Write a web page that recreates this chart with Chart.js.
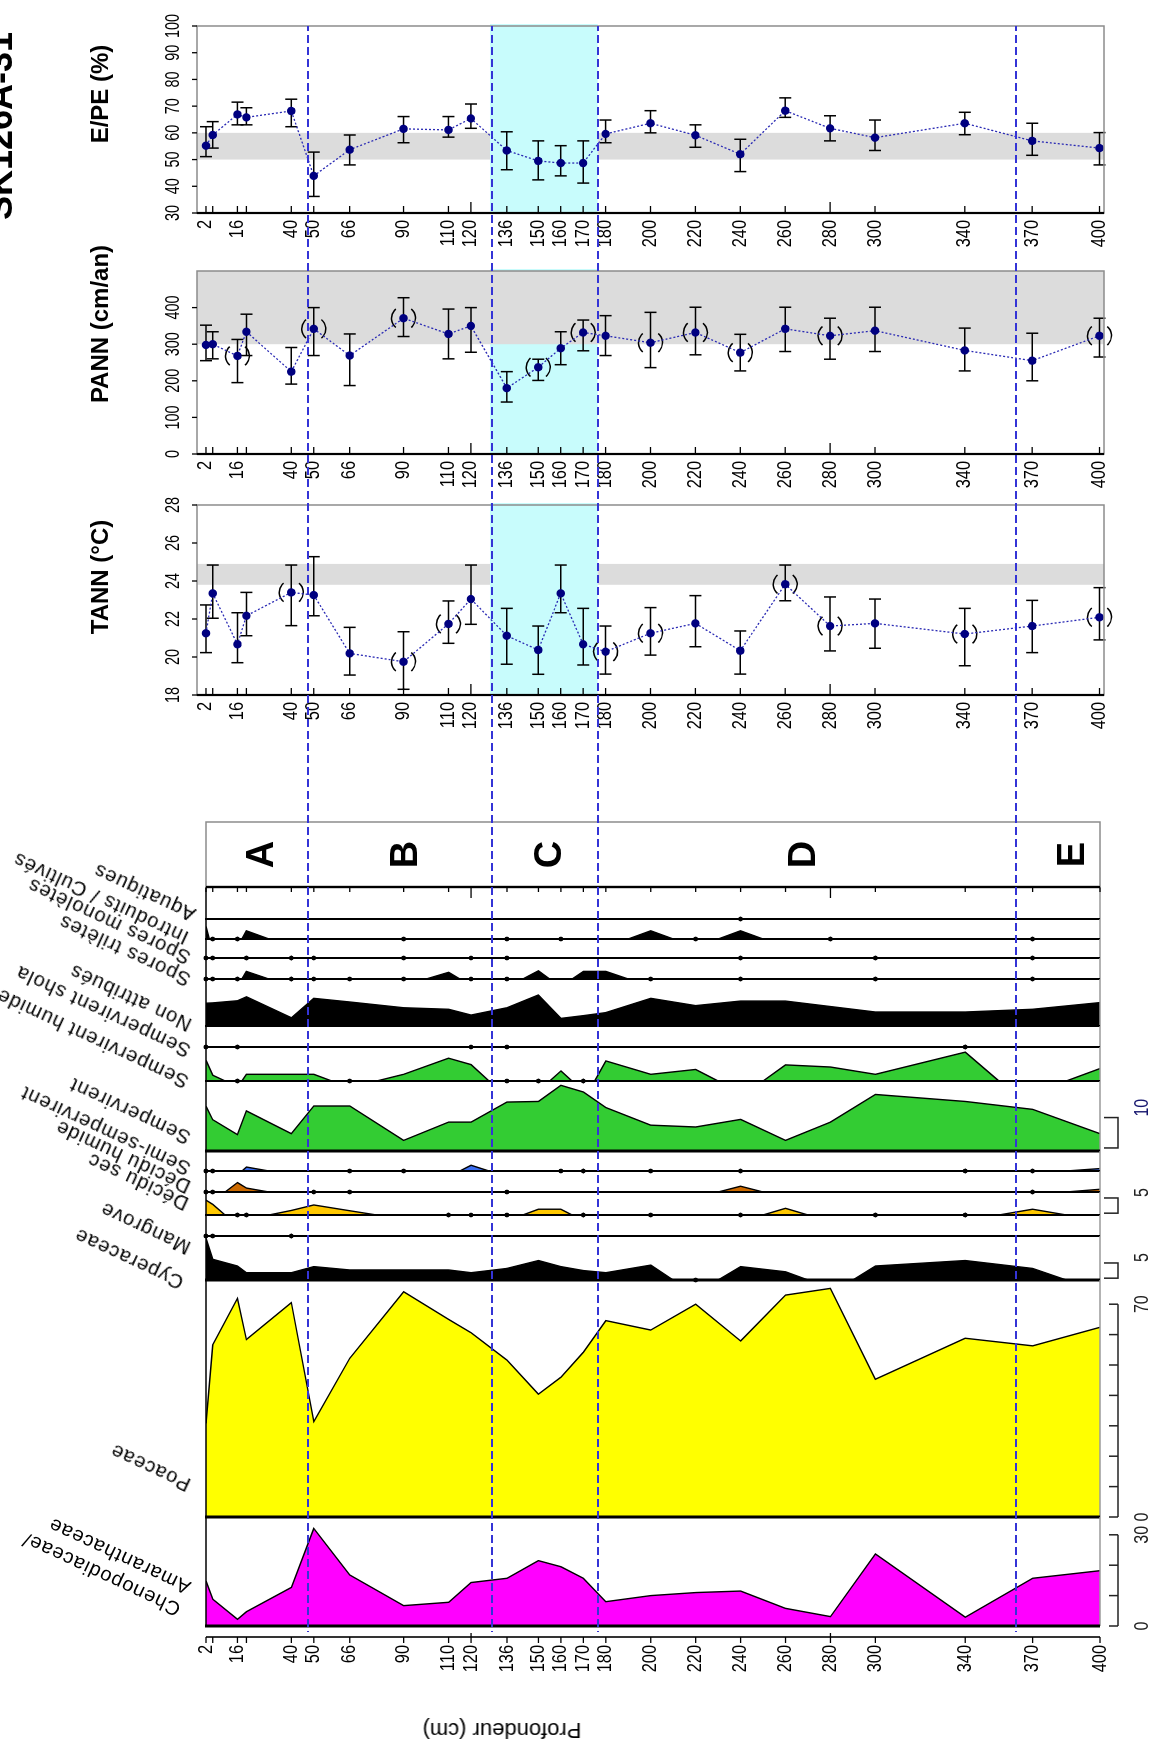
<!DOCTYPE html>
<html lang="fr">
<head>
<meta charset="UTF-8" />
<title>SK126A-31 - diagramme pollinique et reconstructions</title>
<script src="https://cdn.jsdelivr.net/npm/chart.js"></script>
<style>
  html, body { margin: 0; padding: 0; background: #fff; overflow: hidden; width: 1157px; height: 1747px; }
  /* the figure is built in its own landscape frame, then turned a quarter turn to the left */
  #fig { position: absolute; left: 0; top: 0; width: 1747px; height: 1157px;
         transform-origin: 0 0; transform: translate(0, 1747px) rotate(-90deg);
         font-family: "Liberation Sans", Arial, sans-serif; color: #000; }
  #fig canvas { position: absolute; top: 0; }
  .txt { position: absolute; white-space: nowrap; line-height: 1; }
</style>
</head>
<body>
<div id="fig"></div>

<script>
// ---------- data ----------
const depths = [2, 5, 16, 20, 40, 50, 66, 90, 110, 120, 136, 150, 160, 170, 180, 200, 220, 240, 260, 280, 300, 340, 370, 400];
const depthLabels = [2, 16, 40, 50, 66, 90, 110, 120, 136, 150, 160, 170, 180, 200, 220, 240, 260, 280, 300, 340, 370, 400];
const longTicks = [120, 280];

// zone limits (dashed lines) and zone names
const zoneBounds = [47.5, 129.4, 176.5, 362.6];
const zoneNames = ['A', 'B', 'C', 'D', 'E'];
const zoneNameDepths = [26, 90, 154, 267, 387];
const cyanZone = [128.5, 176.5];

// climate reconstructions
const tann     = [21.25, 23.35, 20.67, 22.17, 23.4, 23.26, 20.19, 19.75, 21.74, 23.05, 21.12, 20.37, 23.35, 20.67, 20.28, 21.25, 21.77, 20.33, 23.83, 21.63, 21.77, 21.21, 21.63, 22.09];
const tannLow  = [20.23, 22.04, 19.7, 21.12, 21.65, 22.17, 19.05, 18.3, 20.72, 21.72, 19.62, 19.09, 22.33, 19.58, 19.1, 20.1, 20.54, 19.1, 22.96, 20.32, 20.46, 19.54, 20.23, 20.9];
const tannHigh = [22.74, 24.84, 22.33, 23.4, 24.84, 25.28, 21.56, 21.33, 22.95, 24.84, 22.56, 21.63, 24.84, 22.56, 21.63, 22.6, 23.23, 21.37, 24.84, 23.16, 23.05, 22.56, 22.98, 23.65];
const tannRing = [40, 90, 110, 180, 200, 260, 280, 340, 400];
const tannRef = [23.8, 24.9];
const tannTicks = [18, 20, 22, 24, 26, 28];

const pann     = [298, 300, 268, 334, 225, 342, 269, 371, 328, 350, 180, 237, 289, 332, 323, 304, 332, 277, 342, 323, 337, 283, 255, 323];
const pannLow  = [255, 260, 195, 269, 191, 269, 187, 321, 260, 278, 142, 201, 244, 282, 269, 236, 271, 227, 280, 259, 280, 227, 200, 265];
const pannHigh = [352, 334, 313, 382, 291, 400, 328, 427, 396, 400, 225, 259, 334, 366, 378, 387, 401, 327, 401, 371, 401, 344, 330, 371];
const pannRing = [16, 50, 90, 150, 170, 200, 220, 240, 280, 400];
const pannRef = [300, 500];
const pannTicks = [0, 100, 200, 300, 400];

const epe     = [55.2, 59.2, 66.9, 65.8, 68.2, 43.9, 53.7, 61.5, 61.1, 65.4, 53.4, 49.5, 48.7, 48.7, 59.6, 63.6, 59.1, 52.0, 68.3, 61.7, 58.2, 63.6, 57.0, 54.3];
const epeLow  = [51.1, 54.3, 63.0, 63.0, 62.3, 36.2, 48.0, 56.3, 58.4, 61.7, 46.2, 42.4, 43.9, 41.2, 56.3, 60.0, 54.6, 45.5, 65.8, 57.0, 53.4, 59.3, 51.6, 48.0];
const epeHigh = [62.3, 64.2, 71.5, 69.4, 72.6, 52.8, 59.2, 66.1, 66.1, 70.8, 60.4, 57.0, 55.2, 57.0, 64.8, 68.3, 63.0, 57.6, 73.1, 66.4, 64.8, 67.7, 63.6, 60.1];
const epeRing = [];
const epeRef = [50, 60];
const epeTicks = [30, 40, 50, 60, 70, 80, 90, 100];

// pollen percentages, one value per depth; "dots" = rare occurrences
const aquatiques     = [0, 0, 0, 0, 0, 0, 0, 0, 0, 0, 0, 0, 0, 0, 0, 0, 0, 0, 0, 0, 0, 0, 0, 0];
const aquatiquesDots = [240];
const introduits     = [4.1, 0, 0, 2.7, 0, 0, 0, 0, 0, 0, 0, 0, 0, 0, 0, 2.7, 0, 2.7, 0, 0, 0, 0, 0, 0];
const introduitsDots = [5, 16, 90, 136, 160, 220, 280, 370];
const monoletes      = [0, 0, 0, 0, 0, 0, 0, 0, 0, 0, 0, 0, 0, 0, 0, 0, 0, 0, 0, 0, 0, 0, 0, 0];
const monoletesDots  = [2, 5, 20, 40, 50, 90, 120, 136, 240, 300, 370];
const triletes       = [0, 0, 0, 2.5, 0, 0, 0, 0, 2.2, 0, 0, 2.7, 0, 2.5, 2.5, 0, 0, 0, 0, 0, 0, 0, 0, 0];
const triletesDots   = [2, 5, 16, 40, 50, 66, 90, 120, 136, 200, 240, 300, 370];
const nonAttribues   = [7.5, 7.6, 8.3, 9.6, 2.7, 9.1, 7.9, 6.0, 5.5, 3.6, 6.0, 10.2, 2.5, 3.4, 4.4, 9.1, 6.7, 8.2, 8.2, 6.4, 4.6, 4.6, 5.5, 7.7];
const shola          = [0, 0, 0, 0, 0, 0, 0, 0, 0, 0, 0, 0, 0, 0, 0, 0, 0, 0, 0, 0, 0, 0, 0, 0];
const sholaDots      = [2, 16, 120, 136, 340];
const sempHumide     = [6.8, 1.9, 0, 2.2, 2.2, 2.2, 0, 2.2, 7.5, 5.4, 0, 0, 3.3, 0, 6.6, 2.2, 3.8, 0, 5.3, 4.6, 2.2, 9.5, 0, 4.1];
const sempHumideDots = [16, 66, 136, 150, 170];
const sempervirent   = [14.7, 10.3, 5.4, 13.2, 5.7, 14.8, 14.8, 3.5, 9.5, 9.5, 16.1, 16.3, 21.6, 19.4, 14.3, 8.5, 7.9, 10.4, 3.5, 9.5, 18.6, 16.3, 13.7, 5.7];
const semiSemp       = [0, 0, 0, 1.3, 0, 0, 0, 0, 0, 1.9, 0, 0, 0, 0, 0, 0, 0, 0, 0, 0, 0, 0, 0, 0.8];
const semiSempDots   = [2, 5, 66, 90, 160, 170, 200, 240, 340, 370];
const deciduHumide   = [0, 0, 3.1, 1.3, 0, 0, 0, 0, 0, 0, 0, 0, 0, 0, 0, 0, 0, 1.9, 0, 0, 0, 0, 0, 0.9];
const deciduHumideDots = [2, 5, 50, 66, 136, 370];
const deciduSec      = [4.9, 3.5, 0, 0, 1.5, 3.3, 1.4, 0, 0, 0, 0, 1.9, 1.9, 0, 0, 0, 0, 0, 2.2, 0, 0, 0, 1.9, 0];
const deciduSecDots  = [16, 20, 110, 120, 136, 170, 200, 240, 300, 340];
const mangrove       = [0, 0, 0, 0, 0, 0, 0, 0, 0, 0, 0, 0, 0, 0, 0, 0, 0, 0, 0, 0, 0, 0, 0, 0];
const mangroveDots   = [2, 5, 40];
const cyperaceae     = [13.7, 6.8, 4.6, 2.4, 2.4, 4.4, 3.3, 3.3, 3.3, 2.4, 3.8, 6.4, 4.4, 3.1, 2.4, 4.9, 0, 4.4, 2.7, 0, 4.6, 6.4, 3.8, 0];
const cyperaceaeDots = [220];
const poaceae        = [30.8, 56.6, 71.9, 58.4, 70.5, 31.4, 52.2, 74.1, 65.0, 60.6, 51.6, 40.4, 46.0, 54.2, 64.6, 61.5, 70.0, 57.9, 73.0, 75.2, 45.3, 58.8, 56.3, 62.4];
const chenopod       = [14.8, 8.8, 2.2, 4.7, 12.7, 32.1, 16.8, 6.7, 7.8, 14.3, 15.7, 21.5, 19.5, 15.7, 8.0, 10.0, 11.0, 11.5, 5.8, 3.1, 23.7, 2.9, 15.7, 18.2];

const poaceaeScale = [0, 10, 20, 30, 40, 50, 60, 70];
const chenopodScale = [0, 10, 20, 30];

// ---------- layout ----------
const FIG_W = 1747, FIG_H = 1157;
const TOP = 206, BOTTOM = 1100;   // pixel rows of depth 2 and depth 400
const PX_PCT = 3.04;              // pixels per percent in every pollen column
const green = '#33cc33';
const fig = document.getElementById('fig');
Chart.defaults.font.family = '"Liberation Sans", Arial, sans-serif';

function addCanvas(left, width) {
  const c = document.createElement('canvas');
  c.width = width; c.height = FIG_H;
  c.style.left = left + 'px';
  c.style.width = width + 'px'; c.style.height = FIG_H + 'px';
  fig.appendChild(c);
  return c;
}

function addText(str, u, v, css, transform) {
  const d = document.createElement('div');
  d.className = 'txt';
  d.textContent = str;
  d.style.left = u + 'px'; d.style.top = v + 'px';
  Object.assign(d.style, css);
  d.style.transform = transform;
  fig.appendChild(d);
}

function seg(ctx, x1, y1, x2, y2) {
  ctx.beginPath(); ctx.moveTo(x1, y1); ctx.lineTo(x2, y2); ctx.stroke();
}

// narrow numeric labels like the original
function label(ctx, s, x, y, o = {}) {
  ctx.save();
  ctx.translate(x, y);
  ctx.scale(o.sx || 0.8, 1);
  ctx.font = (o.size || 20) + 'px "Liberation Sans", Arial, sans-serif';
  ctx.fillStyle = o.color || '#000';
  ctx.textAlign = o.align || 'center';
  ctx.textBaseline = o.base || 'middle';
  ctx.fillText(s, 0, 0);
  ctx.restore();
}

// blue dashed zone limits, dash phase kept continuous from one canvas to the next
function zoneLines(chart, left, x0, x1) {
  const { ctx, scales: { y } } = chart;
  ctx.save();
  ctx.strokeStyle = '#3434d6';
  ctx.lineWidth = 2;
  ctx.setLineDash([8, 4]);
  ctx.lineDashOffset = left + x0;
  zoneBounds.forEach(d => {
    const p = Math.round(y.getPixelForValue(d));
    seg(ctx, x0, p, x1, p);
  });
  ctx.restore();
}

// polygon points: a curve reaches zero half way to an empty sample
function profile(values) {
  const pts = [];
  values.forEach((v, i) => {
    if (i > 0 && (values[i - 1] > 0) !== (v > 0)) {
      pts.push({ x: 0, y: (depths[i - 1] + depths[i]) / 2 });
    }
    pts.push({ x: v, y: depths[i] });
  });
  return pts;
}

const baseOptions = {
  responsive: false, animation: false, events: [],
  plugins: { legend: { display: false }, tooltip: { enabled: false } }
};

// ---------- pollen columns ----------
const columns = [
  { labels: [['Aquatiques', 197, 910]], values: aquatiques, dots: aquatiquesDots, color: '#000', top: 887, base: 919, topTicks: true },
  { labels: [['Introduits / Cultivés', 190, 933]], values: introduits, dots: introduitsDots, color: '#000', top: 919, base: 939 },
  { labels: [['Spores monolètes', 192, 953]], values: monoletes, dots: monoletesDots, color: '#000', top: 939, base: 958 },
  { labels: [['Spores trilètes', 192, 975]], values: triletes, dots: triletesDots, color: '#000', top: 958, base: 979 },
  { labels: [['Non attribués', 193, 1020]], values: nonAttribues, dots: [], color: '#000', top: 979, base: 1026 },
  { labels: [['Sempervirent shola', 192, 1046]], values: shola, dots: sholaDots, color: '#000', top: 1026, base: 1047 },
  { labels: [['Sempervirent humide', 190, 1077]], values: sempHumide, dots: sempHumideDots, color: green, top: 1047, base: 1081 },
  { labels: [['Sempervirent', 192, 1133]], values: sempervirent, dots: [], color: green, top: 1081, base: 1151, heavy: true,
    bar: { from: 1, to: 11, text: '10', color: '#16166e' } },
  { labels: [['Semi-sempervirent', 192, 1164]], values: semiSemp, dots: semiSempDots, color: '#3b6ef0', top: 1151, base: 1171 },
  { labels: [['Décidu humide', 192, 1182]], values: deciduHumide, dots: deciduHumideDots, color: '#cc6a00', top: 1171, base: 1192 },
  { labels: [['Décidu sec', 190, 1199]], values: deciduSec, dots: deciduSecDots, color: '#ffc800', top: 1192, base: 1215,
    bar: { from: 0.6, to: 5.6, text: '5' } },
  { labels: [['Mangrove', 192, 1243]], values: mangrove, dots: mangroveDots, color: '#000', top: 1215, base: 1236 },
  { labels: [['Cyperaceae', 185, 1278]], values: cyperaceae, dots: cyperaceaeDots, color: '#000', top: 1236, base: 1280, heavy: true,
    bar: { from: 0.6, to: 5.6, text: '5' } },
  { labels: [['Poaceae', 192, 1480]], values: poaceae, dots: [], color: '#ffff00', top: 1280, base: 1517, heavy: true, axis: poaceaeScale },
  { labels: [['Chenopodiaceae/', 182, 1605], ['Amaranthaceae', 192, 1583]], values: chenopod, dots: [], color: '#ff00ff',
    top: 1517, base: 1626, heavy: true, axis: chenopodScale }
];

function columnDecor(col, left) {
  return {
    id: 'columnDecor',
    afterDatasetsDraw(chart) {
      const { ctx, chartArea: a, scales: { x, y } } = chart;
      const X = v => x.getPixelForValue(v), Y = d => y.getPixelForValue(d);
      const x0 = X(0), yTop = Y(2), yBot = Y(400);
      ctx.save();
      ctx.lineWidth = 1.5;
      ctx.strokeStyle = '#000';
      seg(ctx, x0, yTop, a.right, yTop);
      ctx.strokeStyle = '#9a9a9a';
      seg(ctx, x0, yBot, a.right, yBot);
      ctx.strokeStyle = '#000';
      ctx.lineWidth = col.heavy ? 3 : 2;
      seg(ctx, x0, yTop - 1, x0, yBot);

      ctx.fillStyle = '#000';
      col.dots.forEach(d => {
        ctx.beginPath(); ctx.arc(x0, Y(d), 2.4, 0, Math.PI * 2); ctx.fill();
      });

      if (col.topTicks) {
        ctx.lineWidth = 2.2;
        seg(ctx, a.right, yTop, a.right, yBot);
        ctx.lineWidth = 1.3;
        depths.forEach(d => seg(ctx, a.right, Y(d), a.right - (longTicks.includes(d) ? 11 : 5), Y(d)));
      }
      if (col.bar) {
        const xa = X(col.bar.from), xb = X(col.bar.to);
        ctx.strokeStyle = '#222'; ctx.lineWidth = 1.5;
        ctx.beginPath(); ctx.moveTo(xa, 1104); ctx.lineTo(xa, 1118); ctx.lineTo(xb, 1118); ctx.lineTo(xb, 1104); ctx.stroke();
        label(ctx, col.bar.text, xb + 1, 1142, { align: 'left', color: col.bar.color || '#222' });
      }
      if (col.axis) {
        const t = col.axis, last = t[t.length - 1];
        ctx.strokeStyle = '#222'; ctx.lineWidth = 1.5;
        seg(ctx, X(0), 1118, X(last), 1118);
        t.forEach(v => seg(ctx, X(v), 1109, X(v), 1118));
        label(ctx, '0', X(0), 1142, { color: '#222' });
        label(ctx, String(last), X(last), 1142, { color: '#222' });
      }
      ctx.restore();
      zoneLines(chart, left, 0, a.right);
    }
  };
}

columns.forEach(col => {
  const w = col.base - col.top, padL = 6, padR = 22;
  const left = FIG_W - col.base - padL;
  const canvas = addCanvas(left, w + padL + padR);
  new Chart(canvas, {
    type: 'line',
    data: { datasets: [{
      data: profile(col.values), fill: 'origin', backgroundColor: col.color,
      borderColor: '#000', borderWidth: 1.4, pointRadius: 0, tension: 0
    }] },
    options: Object.assign({}, baseOptions, {
      indexAxis: 'y',
      layout: { padding: { left: padL, right: padR, top: TOP, bottom: FIG_H - BOTTOM } },
      scales: {
        x: { type: 'linear', display: false, min: 0, max: w / PX_PCT },
        y: { type: 'linear', display: false, min: 2, max: 400, reverse: true }
      }
    }),
    plugins: [columnDecor(col, left)]
  });

  // slanted taxon names (upside down once the figure is turned)
  col.labels.forEach(([txt, xr, yr]) => {
    addText(txt, FIG_W - yr, xr, { fontSize: '20px', letterSpacing: '1px', transformOrigin: '0 0' },
      'rotate(-65deg) translateY(-84%)');
  });
});

// ---------- zone box ----------
new Chart(addCanvas(857, 71), {
  type: 'line',
  data: { datasets: [] },
  options: Object.assign({}, baseOptions, {
    layout: { padding: { left: 3, right: 3, top: TOP, bottom: FIG_H - BOTTOM } },
    scales: {
      x: { type: 'linear', display: false, min: 0, max: 1 },
      y: { type: 'linear', display: false, min: 2, max: 400, reverse: true }
    }
  }),
  plugins: [{
    id: 'zones',
    afterDraw(chart) {
      const { ctx, chartArea: a, scales: { y } } = chart;
      ctx.save();
      ctx.strokeStyle = '#8c8c8c'; ctx.lineWidth = 1.5;
      ctx.strokeRect(a.left, a.top, a.width, a.height);
      ctx.strokeStyle = '#000'; ctx.lineWidth = 2.2;
      seg(ctx, a.left, a.top, a.left, a.bottom);
      ctx.fillStyle = '#000';
      ctx.font = 'bold 38px "Liberation Sans", Arial, sans-serif';
      ctx.textAlign = 'center'; ctx.textBaseline = 'alphabetic';
      zoneNames.forEach((z, i) => ctx.fillText(z, (a.left + a.right) / 2, y.getPixelForValue(zoneNameDepths[i]) + 13.5));
      ctx.restore();
      zoneLines(chart, 857, 0, chart.width);
    }
  }]
});

// ---------- depth axis under the pollen diagram ----------
new Chart(addCanvas(0, 124), {
  type: 'line',
  data: { datasets: [] },
  options: Object.assign({}, baseOptions, {
    layout: { padding: { left: 110, right: 6, top: TOP, bottom: FIG_H - BOTTOM } },
    scales: {
      x: { type: 'linear', display: false, min: 0, max: 1 },
      y: { type: 'linear', display: false, min: 2, max: 400, reverse: true }
    }
  }),
  plugins: [{
    id: 'depthAxis',
    afterDraw(chart) {
      const { ctx, chartArea: a, scales: { y } } = chart;
      const Y = d => y.getPixelForValue(d), ax = a.left;
      ctx.save();
      ctx.strokeStyle = '#000'; ctx.lineWidth = 1.6;
      seg(ctx, ax, Y(2), ax, Y(400));
      ctx.lineWidth = 1.3;
      depths.forEach(d => seg(ctx, longTicks.includes(d) ? ax + 4 : ax, Y(d), ax - 6, Y(d)));
      depthLabels.forEach(d => label(ctx, String(d), ax - 8, Y(d), { align: 'right', sx: 0.82 }));
      ctx.restore();
    }
  }]
});
addText('Profondeur (cm)', 17, 502, { fontSize: '22px' }, 'translate(-50%, -50%) rotate(-90deg)');

// ---------- climate panels ----------
const climates = [
  { title: 'TANN (°C)', vals: tann, lo: tannLow, hi: tannHigh, ring: tannRing, ref: tannRef, ticks: tannTicks,
    min: 18, max: 28, canvas: [925, 1250], box: [1052, 1242], titleAt: [1170, 100] },
  { title: 'PANN (cm/an)', vals: pann, lo: pannLow, hi: pannHigh, ring: pannRing, ref: pannRef, ticks: pannTicks,
    min: 0, max: 500, canvas: [1250, 1485], box: [1293, 1476], titleAt: [1423, 100], greyOver: true },
  { title: 'E/PE (%)', vals: epe, lo: epeLow, hi: epeHigh, ring: epeRing, ref: epeRef, ticks: epeTicks,
    min: 30, max: 100, canvas: [1485, 1747], box: [1534, 1721], titleAt: [1653, 100], dashToBox: true }
];

function climateDecor(p, left) {
  return {
    id: 'climateDecor',
    beforeDatasetsDraw(chart) {
      const { ctx, chartArea: a, scales: { x, y } } = chart;
      const X = v => x.getPixelForValue(v), Y = d => y.getPixelForValue(d);
      ctx.save();
      const grey = () => {
        ctx.fillStyle = '#dcdcdc';
        ctx.fillRect(X(p.ref[0]), a.top, X(p.ref[1]) - X(p.ref[0]), a.height);
      };
      const cyan = () => {
        ctx.fillStyle = '#c8fcfc';
        ctx.fillRect(a.left, Y(cyanZone[0]), a.width + 2, Y(cyanZone[1]) - Y(cyanZone[0]));
      };
      if (p.greyOver) { cyan(); grey(); } else { grey(); cyan(); }

      ctx.strokeStyle = '#000'; ctx.lineWidth = 1.5;
      depths.forEach((d, i) => {
        const py = Y(d), xl = X(p.lo[i]), xh = X(p.hi[i]);
        seg(ctx, xl, py, xh, py);
        seg(ctx, xl, py - 6, xl, py + 6);
        seg(ctx, xh, py - 6, xh, py + 6);
      });
      p.ring.forEach(d => {
        const i = depths.indexOf(d), px = X(p.vals[i]), py = Y(d);
        ctx.beginPath(); ctx.arc(px, py, 12, Math.PI * 1.22, Math.PI * 1.78); ctx.stroke();
        ctx.beginPath(); ctx.arc(px, py, 12, Math.PI * 0.22, Math.PI * 0.78); ctx.stroke();
      });
      ctx.restore();
    },
    afterDatasetsDraw(chart) {
      const { ctx, chartArea: a, scales: { x, y } } = chart;
      const X = v => x.getPixelForValue(v), Y = d => y.getPixelForValue(d);
      ctx.save();
      ctx.strokeStyle = '#8c8c8c'; ctx.lineWidth = 1.5;
      ctx.strokeRect(a.left, a.top, a.width, a.height);
      ctx.strokeStyle = '#000'; ctx.lineWidth = 2.2;
      seg(ctx, a.left, a.top, a.left, a.bottom);
      // depth ticks point into the panel
      ctx.lineWidth = 1.3;
      depths.forEach(d => seg(ctx, a.left, Y(d), a.left + (longTicks.includes(d) ? 11 : 7), Y(d)));
      depthLabels.forEach(d => label(ctx, String(d), a.left - 7, Y(d), { align: 'right', sx: 0.82 }));
      // value axis
      p.ticks.forEach(t => {
        seg(ctx, X(t), a.top, X(t), a.top - 5);
        label(ctx, String(t), X(t), a.top - 18, { base: 'alphabetic', sx: 0.72 });
      });
      ctx.restore();
      zoneLines(chart, left, 0, p.dashToBox ? a.right : chart.width);
    }
  };
}

climates.forEach(p => {
  const [cl, cr] = p.canvas, [bl, br] = p.box;
  new Chart(addCanvas(cl, cr - cl), {
    type: 'line',
    data: { datasets: [{
      data: depths.map((d, i) => ({ x: p.vals[i], y: d })),
      borderColor: '#2a2ab4', borderWidth: 1.3, borderDash: [2, 2],
      pointRadius: 4.2, pointBackgroundColor: '#000080', pointBorderWidth: 0,
      fill: false, tension: 0
    }] },
    options: Object.assign({}, baseOptions, {
      indexAxis: 'y',
      layout: { padding: { left: bl - cl, right: cr - br, top: 197, bottom: FIG_H - 1104 } },
      scales: {
        x: { type: 'linear', display: false, min: p.min, max: p.max },
        y: { type: 'linear', display: false, min: -2, max: 402, reverse: true }
      }
    }),
    plugins: [climateDecor(p, cl)]
  });
  addText(p.title, p.titleAt[0], p.titleAt[1], { fontSize: '24px', fontWeight: 'bold' }, 'translate(-50%, -50%)');
});

addText('SK126A-31', 1527, -18, { fontSize: '36px', fontWeight: 'bold' }, 'none');
</script>
</body>
</html>
